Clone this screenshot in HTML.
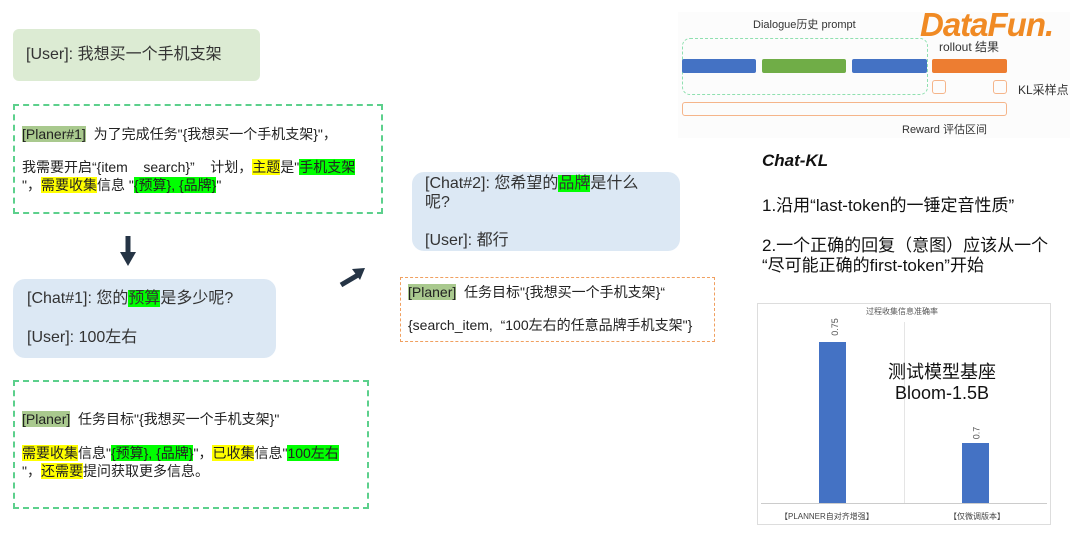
<!DOCTYPE html>
<html><head><meta charset="utf-8"><style>
*{margin:0;padding:0;box-sizing:border-box}
body{width:1080px;height:536px;background:#fff;position:relative;overflow:hidden;font-family:"Liberation Sans","Noto Sans CJK SC",sans-serif;color:#222}
.a{position:absolute;white-space:nowrap}
.t13{font-size:14px;line-height:18px}
.t16{font-size:16px;line-height:20px;color:#333}
.y{background:#ffff00}.g{background:#00ff00}.p{background:#a9c98e}
.dg{border:2px dashed #5cd08c}
</style></head><body>
<div class="a" style="left:13px;top:29px;width:247px;height:52px;background:#dcebd3;border-radius:6px"></div>
<div class="a t16" style="left:26px;top:45px">[User]: 我想买一个手机支架</div>

<div class="a dg" style="left:13px;top:104px;width:370px;height:110px"></div>
<div class="a t13" style="left:22px;top:125px"><span class="p">[Planer#1]</span>&nbsp; 为了完成任务"{我想买一个手机支架}"，</div>
<div class="a t13" style="left:22px;top:158px">我需要开启“{item&nbsp;&nbsp;&nbsp; search}”&nbsp;&nbsp;&nbsp; 计划，<span class="y">主题</span>是"<span class="g">手机支架</span></div>
<div class="a t13" style="left:22px;top:176px">"，<span class="y">需要收集</span>信息 "<span class="g">{预算}, {品牌}</span>"</div>

<svg class="a" style="left:118px;top:236px" width="20" height="32"><rect x="7.5" y="0" width="5" height="18" fill="#253445"/><polygon points="2,16 18,16 10,30" fill="#253445"/></svg>

<div class="a" style="left:13px;top:279px;width:263px;height:79px;background:#dce8f4;border-radius:12px"></div>
<div class="a t16" style="left:27px;top:289px">[Chat#1]: 您的<span class="g">预算</span>是多少呢?</div>
<div class="a t16" style="left:27px;top:328px">[User]: 100左右</div>

<div class="a dg" style="left:13px;top:380px;width:356px;height:129px"></div>
<div class="a t13" style="left:22px;top:410px"><span class="p">[Planer]</span>&nbsp; 任务目标"{我想买一个手机支架}"</div>
<div class="a t13" style="left:22px;top:444px"><span class="y">需要收集</span>信息"<span class="g">{预算}, {品牌}</span>"，<span class="y">已收集</span>信息"<span class="g">100左右</span></div>
<div class="a t13" style="left:22px;top:462px">"，<span class="y">还需要</span>提问获取更多信息。</div>

<svg class="a" style="left:338px;top:266px" width="30" height="22"><line x1="3" y1="19" x2="20" y2="9" stroke="#253445" stroke-width="5"/><polygon points="14,3 27,2 22,14" fill="#253445"/></svg>

<div class="a" style="left:412px;top:172px;width:268px;height:79px;background:#dce8f4;border-radius:12px"></div>
<div class="a t16" style="left:425px;top:174px">[Chat#2]: 您希望的<span class="g">品牌</span>是什么</div>
<div class="a t16" style="left:425px;top:193px">呢?</div>
<div class="a t16" style="left:425px;top:231px">[User]: 都行</div>

<div class="a" style="left:400px;top:277px;width:315px;height:65px;border:1.5px dashed #f0a060"></div>
<div class="a t13" style="left:408px;top:283px"><span class="p">[Planer]</span>&nbsp; 任务目标"{我想买一个手机支架}“</div>
<div class="a t13" style="left:408px;top:316px">{search_item,&nbsp; “100左右的任意品牌手机支架"}</div>

<div class="a" style="left:678px;top:12px;width:392px;height:126px;background:#fcfcfc"></div>
<div class="a" style="left:753px;top:16px;font-size:11px;color:#333">Dialogue历史 prompt</div>
<div class="a" style="left:682px;top:38px;width:246px;height:57px;border:1px dashed #8fe0b0;border-radius:8px"></div>
<div class="a" style="left:682px;top:59px;width:74px;height:14px;background:#4472c4;border-radius:2px"></div>
<div class="a" style="left:762px;top:59px;width:84px;height:14px;background:#70ad47;border-radius:2px"></div>
<div class="a" style="left:852px;top:59px;width:75px;height:14px;background:#4472c4;border-radius:2px"></div>
<div class="a" style="left:932px;top:59px;width:75px;height:14px;background:#ed7d31;border-radius:2px"></div>
<div class="a" style="left:939px;top:38px;font-size:12px;color:#333">rollout 结果</div>
<div class="a" style="left:932px;top:80px;width:14px;height:14px;border:1px solid #f5b58a;border-radius:3px"></div>
<div class="a" style="left:993px;top:80px;width:14px;height:14px;border:1px solid #f5b58a;border-radius:3px"></div>
<div class="a" style="left:1018px;top:81px;font-size:12px;color:#333">KL采样点</div>
<div class="a" style="left:682px;top:102px;width:325px;height:14px;border:1px solid #f5b58a;border-radius:3px"></div>
<div class="a" style="left:902px;top:121px;font-size:11px;color:#333">Reward 评估区间</div>
<div class="a" style="left:920px;top:6px;font-size:33px;font-weight:bold;font-style:italic;color:#f08a24;letter-spacing:-1px">DataFun.</div>

<div class="a" style="left:762px;top:151px;font-size:17px;font-weight:bold;font-style:italic;color:#111">Chat-KL</div>
<div class="a" style="left:762px;top:191px;font-size:17px;color:#111">1.沿用“last-token的一锤定音性质”</div>
<div class="a" style="left:762px;top:231px;font-size:17px;color:#111">2.一个正确的回复（意图）应该从一个</div>
<div class="a" style="left:762px;top:251px;font-size:17px;color:#111">“尽可能正确的first-token”开始</div>

<div class="a" style="left:757px;top:303px;width:294px;height:222px;border:1px solid #ddd"></div>
<div class="a" style="left:866px;top:306px;font-size:8px;color:#555">过程收集信息准确率</div>
<div class="a" style="left:761px;top:503px;width:286px;height:1px;background:#ccc"></div>
<div class="a" style="left:904px;top:322px;width:1px;height:181px;background:#e5e5e5"></div>
<div class="a" style="left:819px;top:342px;width:27px;height:161px;background:#4472c4"></div>
<div class="a" style="left:962px;top:443px;width:27px;height:60px;background:#4472c4"></div>
<div class="a" style="left:826px;top:322px;font-size:9px;color:#555;transform:rotate(-90deg);transform-origin:center">0.75</div>
<div class="a" style="left:970px;top:428px;font-size:9px;color:#555;transform:rotate(-90deg)">0.7</div>
<div class="a" style="left:780px;top:511px;font-size:8px;color:#444">【PLANNER自对齐增强】</div>
<div class="a" style="left:949px;top:511px;font-size:8px;color:#444">【仅微调版本】</div>
<div class="a" style="left:888px;top:362px;font-size:18px;color:#111;text-align:center;line-height:21px">测试模型基座<br>Bloom-1.5B</div>
</body></html>
